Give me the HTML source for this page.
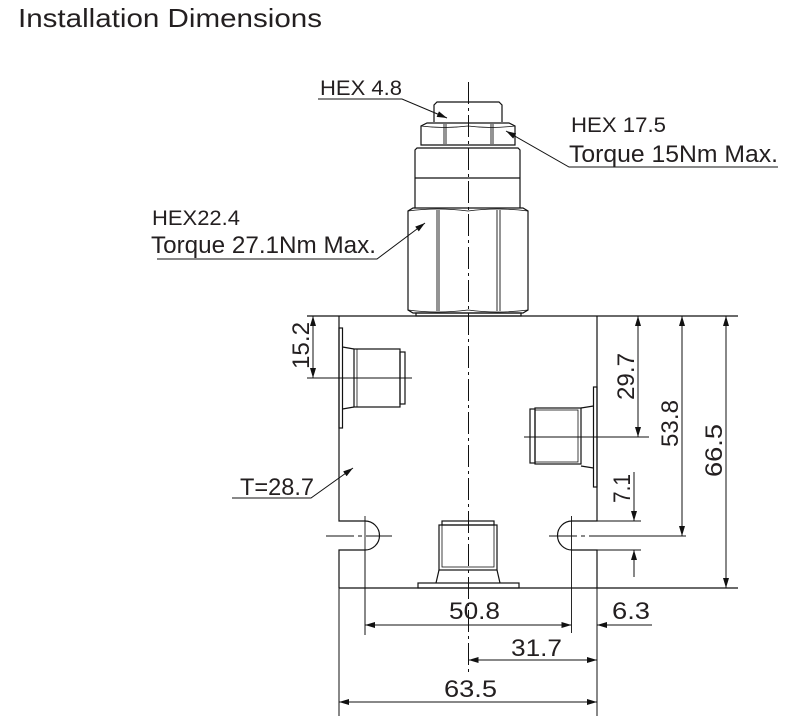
<!DOCTYPE html>
<html><head><meta charset="utf-8"><style>
html,body{margin:0;padding:0;background:#fff;}
svg{display:block;}
text{font-family:"Liberation Sans",Arial,sans-serif;fill:#231f20;}
</style></head><body>
<svg width="788" height="716" viewBox="0 0 788 716" xmlns="http://www.w3.org/2000/svg">
<defs>
<marker id="a" viewBox="0 0 10 6" refX="10" refY="3" markerWidth="11" markerHeight="6" orient="auto-start-reverse" markerUnits="userSpaceOnUse">
<path d="M0,0 L10,3 L0,6 z" fill="#111"/></marker>
</defs>
<text x="18" y="27" font-size="26" textLength="304" lengthAdjust="spacingAndGlyphs">Installation Dimensions</text>
<g stroke="#111" stroke-width="1.2" fill="none">
<line x1="468.5" y1="82" x2="468.5" y2="675" stroke-dasharray="22,4,3,4" stroke-width="1"/>
<path d="M434,122 L434,105 L437,102 L499,102 L502,105 L502,122"/>
<path d="M421,145 L421,126 L427,123 L509,123 L515,126 L515,145 Z"/>
<path d="M444,124 V144 M446,124 V144 M491,124 V144 M493,124 V144" stroke-width="0.9"/>
<path d="M421,126 Q444,129 468,126 Q491,129 515,126" stroke-width="0.7"/>
<path d="M415,208 L415,150 L417,148 L518,148 L520,150 L520,208"/>
<line x1="415" y1="178" x2="520" y2="178"/>
<path d="M408,310 L408,211 L413,208 L523,208 L528,211 L528,310 L523,313 L413,313 Z"/>
<path d="M437,210 V311 M439,210 V311 M497,210 V311 M500,210 V311" stroke-width="0.9"/>
<path d="M408,211 Q437,207 468,211 Q497,207 528,211 M408,310 Q437,314 468,310 Q497,314 528,310" stroke-width="0.7"/>
<rect x="416" y="313" width="105" height="3"/>
<line x1="307" y1="316" x2="738" y2="316"/>
<path d="M339,316 V521 H365 A14.5,14.5 0 0 1 365,550 H339 V588"/>
<path d="M597,316 V521 H572 A14.5,14.5 0 0 0 572,550 H597 V588"/>
<line x1="339" y1="588" x2="738" y2="588"/>
<rect x="339" y="328" width="3.5" height="100"/>
<path d="M342.5,347 L354,349 M342.5,409 L354,407"/>
<rect x="354" y="349" width="46" height="58"/>
<rect x="357" y="349" width="43" height="58" stroke-width="0.8"/>
<rect x="400" y="352" width="5" height="52"/>
<rect x="593.5" y="387" width="3.5" height="100"/>
<path d="M593.5,406 L581,408 M593.5,468 L581,466"/>
<rect x="535" y="408" width="46" height="56"/>
<rect x="535" y="410" width="43" height="52" stroke-width="0.8"/>
<rect x="530" y="409" width="5" height="54"/>
<rect x="418" y="583" width="101" height="5"/>
<rect x="439" y="525" width="58" height="45"/>
<rect x="442" y="521" width="52" height="4"/>
<rect x="442" y="525" width="52" height="42" stroke-width="0.8"/>
<path d="M439,570 L436,583 M497,570 L500,583"/>
<line x1="326" y1="536" x2="392" y2="536" stroke-dasharray="28,4,4,4" stroke-width="0.9"/>
<line x1="549" y1="536" x2="600" y2="536" stroke-dasharray="28,4,4,4" stroke-width="0.9"/>
<line x1="365" y1="516" x2="365" y2="556" stroke-width="0.9"/>
<line x1="571.5" y1="516" x2="571.5" y2="633" stroke-width="0.9"/>
</g>
<g stroke="#111" stroke-width="1" fill="none">
<line x1="307" y1="378" x2="412" y2="378"/>
<line x1="524" y1="437" x2="649" y2="437"/>
<line x1="597" y1="536" x2="686" y2="536"/>
<line x1="572" y1="521" x2="641" y2="521"/>
<line x1="572" y1="550" x2="641" y2="550"/>
<line x1="365" y1="550" x2="365" y2="635"/>
<line x1="339" y1="588" x2="339" y2="716"/>
<line x1="597" y1="588" x2="597" y2="716"/>
<line x1="313" y1="316" x2="313" y2="378" marker-start="url(#a)" marker-end="url(#a)"/>
<line x1="638" y1="316" x2="638" y2="437" marker-start="url(#a)" marker-end="url(#a)"/>
<line x1="682" y1="316" x2="682" y2="536" marker-start="url(#a)" marker-end="url(#a)"/>
<line x1="726" y1="316" x2="726" y2="588" marker-start="url(#a)" marker-end="url(#a)"/>
<line x1="634" y1="472" x2="634" y2="521" marker-end="url(#a)"/>
<line x1="634" y1="577" x2="634" y2="550" marker-end="url(#a)"/>
<line x1="365" y1="625" x2="571.5" y2="625" marker-start="url(#a)" marker-end="url(#a)"/>
<line x1="652" y1="625" x2="597" y2="625" marker-end="url(#a)"/>
<line x1="468.5" y1="660" x2="597" y2="660" marker-start="url(#a)" marker-end="url(#a)"/>
<line x1="339" y1="702" x2="597" y2="702" marker-start="url(#a)" marker-end="url(#a)"/>
<path d="M318,99 H402 L447,118" marker-end="url(#a)"/>
<path d="M778,167 H569 L506,131" marker-end="url(#a)"/>
<path d="M157,259 H377 L425,223" marker-end="url(#a)"/>
<path d="M232,498 H311 L353,468" marker-end="url(#a)"/>
</g>
<g>
<text x="320" y="95" font-size="21" textLength="82" lengthAdjust="spacingAndGlyphs">HEX 4.8</text>
<text x="571" y="132" font-size="21" textLength="95" lengthAdjust="spacingAndGlyphs">HEX 17.5</text>
<text x="569" y="162" font-size="24" textLength="209" lengthAdjust="spacingAndGlyphs">Torque 15Nm Max.</text>
<text x="152" y="225" font-size="21" textLength="88" lengthAdjust="spacingAndGlyphs">HEX22.4</text>
<text x="151" y="253" font-size="24" textLength="225" lengthAdjust="spacingAndGlyphs">Torque 27.1Nm Max.</text>
<text x="240" y="495" font-size="24" textLength="74" lengthAdjust="spacingAndGlyphs">T=28.7</text>
<text x="449" y="619" font-size="24" textLength="51" lengthAdjust="spacingAndGlyphs">50.8</text>
<text x="612" y="619" font-size="24" textLength="38" lengthAdjust="spacingAndGlyphs">6.3</text>
<text x="511" y="656" font-size="24" textLength="51" lengthAdjust="spacingAndGlyphs">31.7</text>
<text x="444" y="697" font-size="24" textLength="53" lengthAdjust="spacingAndGlyphs">63.5</text>
<text transform="translate(309,369) rotate(-90)" font-size="24" textLength="47" lengthAdjust="spacingAndGlyphs">15.2</text>
<text transform="translate(634,400) rotate(-90)" font-size="24" textLength="47" lengthAdjust="spacingAndGlyphs">29.7</text>
<text transform="translate(678,447) rotate(-90)" font-size="24" textLength="47" lengthAdjust="spacingAndGlyphs">53.8</text>
<text transform="translate(722,477) rotate(-90)" font-size="24" textLength="53" lengthAdjust="spacingAndGlyphs">66.5</text>
<text transform="translate(630,503) rotate(-90)" font-size="24" textLength="29" lengthAdjust="spacingAndGlyphs">7.1</text>
</g>
</svg>
</body></html>
